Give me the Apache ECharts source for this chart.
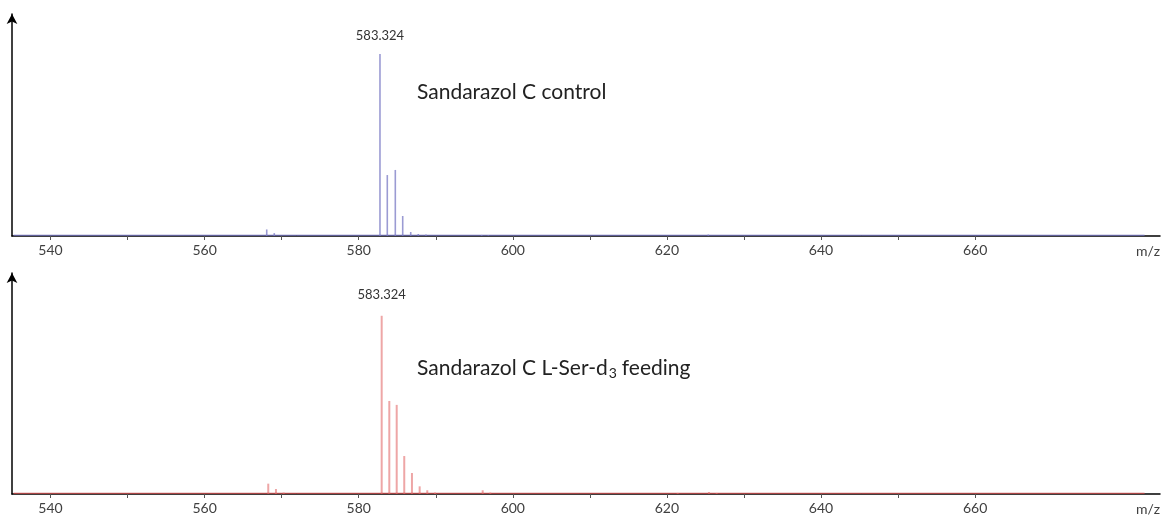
<!DOCTYPE html>
<html lang="en">
<head>
<meta charset="UTF-8">
<title>Sandarazol C MS</title>
<script src="https://cdn.jsdelivr.net/npm/echarts@6/dist/echarts.min.js"></script>
<style>html,body{margin:0;background:#fff}#main{width:1168px;height:516px}</style>
</head>
<body>
<div id="main"></div>
<script>
// m/z and relative intensity (%)
var controlMz = [568.06, 569.04, 582.76, 583.71, 584.75, 585.71, 586.75, 587.73, 588.73, 595.96, 596.82, 625.37];
var controlInt = [3.6, 1.6, 100, 33.5, 36.3, 11, 2.2, 1.1, 0.8, 0.6, 0.4, 0.8];
var feedMz = [568.26, 569.26, 570.26, 582.98, 583.97, 584.93, 585.91, 586.91, 587.91, 588.9, 589.9, 596.09, 597.08, 621.4, 625.46, 626.46];
var feedInt = [5.8, 2.8, 0.8, 100, 52.2, 50, 21.3, 11.8, 4.3, 2.1, 0.8, 2.1, 0.8, 0.6, 1.1, 0.6];
// noise baseline
var baseMz = [535.2, 682];
var baseInt = [0.4, 0.4];
var tickValues = [540, 550, 560, 570, 580, 590, 600, 610, 620, 630, 640, 650, 660];
var labelValues = [540, 560, 580, 600, 620, 640, 660];
var peakLabel = '583.324';
var titleControl = 'Sandarazol C control';
var titleFeed = 'Sandarazol C L-Ser-d{sub|3}feeding';

var font = 'Lato';
var chart = echarts.init(document.getElementById('main'));

function stems(mz, ints, dist) {
  return mz.map(function (m, i) {
    var item = { value: [m, ints[i]] };
    if (ints[i] === 100) {
      item.label = { show: true, position: 'top', distance: dist, formatter: peakLabel,
        fontFamily: font, fontSize: 13, color: '#333' };
    }
    return item;
  });
}

function xAxis(idx) {
  return {
    type: 'value', gridIndex: idx, min: 535, max: 684,
    name: 'm/z', nameLocation: 'end', nameGap: 0,
    nameTextStyle: { align: 'right', verticalAlign: 'top', padding: [8, 0, 0, 0], fontFamily: font, fontSize: 14, color: '#404040' },
    splitLine: { show: false },
    axisLine: { lineStyle: { color: '#000', width: 1.5 } },
    axisTick: { customValues: tickValues, length: 4, lineStyle: { color: '#555' } },
    axisLabel: { customValues: labelValues, margin: 7, fontFamily: font, fontSize: 14, color: '#404040' }
  };
}

function yAxis(idx, max) {
  return {
    type: 'value', gridIndex: idx, min: 0, max: max,
    splitLine: { show: false },
    axisTick: { show: false }, axisLabel: { show: false },
    axisLine: { show: true, symbol: ['none', 'arrow'], symbolSize: [8, 10], lineStyle: { color: '#000', width: 1.5 } }
  };
}

var option = {
  animation: false,
  title: [
    { text: titleControl, left: 417, top: 82, padding: 0,
      textStyle: { fontFamily: font, fontSize: 21, fontWeight: 'normal', color: '#222' } },
    { text: titleFeed, left: 417, top: 356, padding: 0,
      textStyle: { fontFamily: font, fontSize: 21, fontWeight: 'normal', color: '#222', lineHeight: 24,
        rich: { sub: { fontFamily: font, fontSize: 14, color: '#222', verticalAlign: 'bottom', lineHeight: 14, padding: [0, 5, 0, 1] } } } }
  ],
  grid: [
    { left: 12, right: 8, top: 14, height: 222 },
    { left: 12, right: 8, top: 273, height: 221 }
  ],
  xAxis: [xAxis(0), xAxis(1)],
  yAxis: [yAxis(0, 122), yAxis(1, 124)],
  series: [
    { type: 'line', xAxisIndex: 0, yAxisIndex: 0, symbol: 'none', silent: true,
      lineStyle: { color: '#6c6cb8', width: 1 },
      data: baseMz.map(function (m, i) { return [m, baseInt[i]]; }) },
    { type: 'bar', xAxisIndex: 0, yAxisIndex: 0, barWidth: 1.6,
      itemStyle: { color: '#9b9bd3' },
      data: stems(controlMz, controlInt, 12) },
    { type: 'line', xAxisIndex: 1, yAxisIndex: 1, symbol: 'none', silent: true,
      lineStyle: { color: '#c84848', width: 1 },
      data: baseMz.map(function (m, i) { return [m, baseInt[i]]; }) },
    { type: 'bar', xAxisIndex: 1, yAxisIndex: 1, barWidth: 2,
      itemStyle: { color: '#eea6a6' },
      data: stems(feedMz, feedInt, 14) }
  ]
};
chart.setOption(option);
</script>
</body>
</html>
